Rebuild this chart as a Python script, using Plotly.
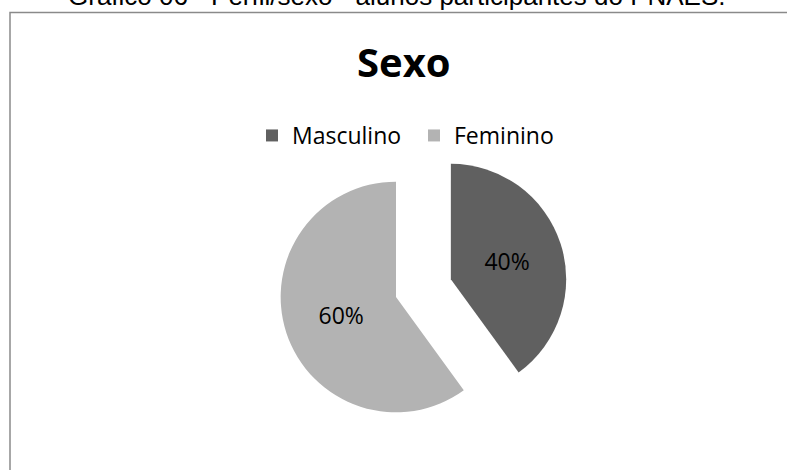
import plotly.graph_objects as go

labels = ["Masculino", "Feminino"]
values = [40, 60]
colors = ["#606060", "#b3b3b3"]
pulls = [0.5, 0]

W, H = 787, 470

fig = go.Figure()
fig.add_trace(go.Pie(
    labels=labels,
    values=values,
    sort=False,
    direction="clockwise",
    rotation=0,
    pull=pulls,
    marker=dict(colors=colors, line=dict(width=0)),
    textinfo="percent",
    textposition="inside",
    insidetextorientation="horizontal",
    textfont=dict(family="Open Sans", size=23, color="#000000"),
    domain=dict(x=[222 / W, 570 / W], y=[0, 0.7362]),
    hoverinfo="label+percent",
))

fig.update_layout(
    width=W, height=H,
    margin=dict(l=0, r=0, t=0, b=0),
    paper_bgcolor="white",
    plot_bgcolor="white",
    showlegend=True,
    legend=dict(
        orientation="h",
        x=252 / W, xanchor="left",
        y=1 - 135.5 / H, yanchor="middle",
        font=dict(family="Open Sans", size=23, color="#000000"),
        entrywidth=117, entrywidthmode="pixels",
        itemclick=False,
    ),
    shapes=[dict(
        type="rect", xref="paper", yref="paper",
        x0=10 / W, x1=1.02, y0=-0.02, y1=1 - 12.5 / H,
        line=dict(color="#8a8a8a", width=1.5),
        fillcolor="rgba(0,0,0,0)", layer="below",
    )],
    annotations=[
        dict(
            text="Gráfico 06 - Perfil/sexo - alunos participantes do PNAES.",
            xref="paper", yref="paper", x=397 / W, y=1 + 4 / H,
            xanchor="center", yanchor="middle", showarrow=False,
            font=dict(family="Liberation Sans, Arial", size=26, color="#000000"),
        ),
        dict(
            text="<b>Sexo</b>",
            xref="paper", yref="paper", x=403.5 / W, y=1 - 62 / H,
            xanchor="center", yanchor="middle", showarrow=False,
            font=dict(family="Open Sans", size=40, color="#000000"),
        ),
    ],
)

fig.write_html("out.html", config={"displayModeBar": False},
               post_script="document.body.style.margin='0';")
